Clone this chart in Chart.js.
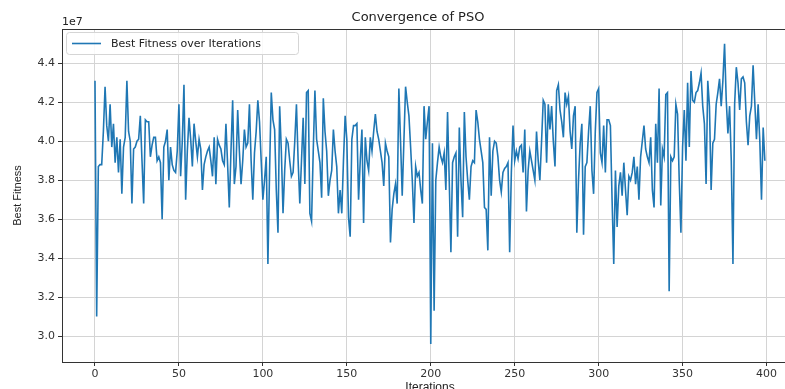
<!DOCTYPE html>
<html>
<head>
<meta charset="utf-8">
<script src="https://cdn.jsdelivr.net/npm/chart.js@4.4.0/dist/chart.umd.min.js"></script>
<style>
  html, body { margin: 0; padding: 0; background: #fff; }
  #wrap { width: 785px; height: 389px; }
</style>
</head>
<body>
<div id="wrap"><canvas id="pso-chart" width="785" height="389"></canvas></div>
<script>
// best fitness per iteration, in units of 1e7
const bestFitness = [
  4.31,3.10,3.87,3.88,3.88,4.05,4.28,4.08,4.00,4.19, 3.97,4.09,3.89,4.02,3.84,4.01,3.73,3.97,4.02,4.31,
  4.05,4.00,3.68,3.96,3.97,4.00,4.01,4.13,3.90,3.68, 4.11,4.10,4.10,3.92,3.98,4.02,4.02,3.90,3.92,3.89,
  3.60,3.97,4.00,4.06,3.80,3.97,3.88,3.85,3.84,3.95,
  4.19,3.82,4.00,4.29,3.70,3.95,4.12,4.01,3.87, 4.09,4.00,3.92,4.01,3.96,3.75,3.88,3.92,3.95,3.97,
  3.90,3.82,4.02,3.78,4.01,3.98,3.96,3.90,3.88,4.09, 3.88,3.66,3.95,4.21,3.78,3.87,4.16,3.95,3.78,3.90,
  4.06,3.97,3.99,4.19,3.90,3.70,3.94,4.05,4.21,4.10, 3.90,
  3.70,3.80,3.92,3.37,3.85,4.25,4.11,4.06,3.75,3.53, 4.18,3.95,3.63,3.85,4.01,3.99,3.90,3.82,3.84,4.00,
  4.19,3.90,3.68,3.90,4.12,3.78,4.25,4.26,3.63,3.59, 3.95,4.26,4.01,3.95,3.89,3.71,4.22,4.05,3.95,3.72,
  3.80,3.85,4.06,3.95,3.87,3.63,3.75,3.63,3.90,4.13,
  4.01,3.61,3.51,4.01,4.08,4.08,4.09,3.70,3.90,4.06, 3.58,4.02,3.90,3.85,4.02,3.95,4.05,4.14,4.05,
  4.01,3.95,3.89,3.77,3.99,3.95,3.92,3.48,3.65,3.73, 3.78,3.68,4.27,4.00,3.72,4.00,4.28,4.20,4.13,3.97,
  3.80,3.58,3.87,3.82,3.84,3.75,3.68,4.18,4.01,4.10, 4.18,
  2.96,3.99,3.13,3.80,3.89,3.97,3.92,3.89,3.94,3.75, 4.15,3.80,3.43,3.89,3.92,3.94,3.51,4.07,3.80,3.61,
  4.15,3.92,3.80,3.70,3.87,3.90,3.89,4.16,4.10,4.01, 3.95,3.89,3.66,3.65,3.44,4.02,3.72,3.95,4.00,3.99,
  3.92,3.80,3.74,3.84,3.86,3.87,3.89,3.43,3.84,4.08, 3.90,3.95,
  3.91,3.97,3.98,3.84,4.06,3.64,3.85,3.95,3.90,3.85, 3.80,4.05,3.90,3.80,4.00,4.21,4.19,3.89,4.19,
  4.06,4.18,4.00,3.87,4.26,4.29,4.16,4.10,4.02,4.25, 4.19,4.23,4.05,3.96,4.13,4.18,3.53,3.80,3.99,4.09,
  3.52,3.87,3.89,4.05,4.18,3.85,3.73,4.05,4.25,4.27,
  3.94,3.89,4.08,3.84,4.11,4.11,4.08,3.70,3.37,3.85, 3.56,3.77,3.84,3.72,3.89,3.75,3.62,3.82,3.80,3.84,
  3.92,3.78,3.87,3.70,3.92,4.00,4.08,3.96,3.92,3.89, 4.02,3.75,3.66,4.09,3.89,4.27,3.67,3.96,3.92,4.24,
  4.25,3.23,3.92,3.90,3.92,4.19,4.14,3.80,3.53,3.97,
  4.16,3.90,4.30,3.97,4.36,4.21,4.20,4.25,4.26,4.30, 4.35,4.18,4.09,3.78,4.31,4.18,3.75,3.99,4.01,4.19,
  4.25,4.32,4.18,4.31,4.50,4.21,4.04,4.18,3.90, 3.37,4.19,4.38,4.30,4.16,4.32,4.33,4.30,4.10,3.98,
  4.13,4.18,4.39,4.20,4.01,4.19,4.00,3.70,4.07,3.90
];
const xTicks = [0, 50, 100, 150, 200, 250, 300, 350, 400];
const yTicks = [3.0, 3.2, 3.4, 3.6, 3.8, 4.0, 4.2, 4.4];
const offsetLabel = '1e7';
const titleText = 'Convergence of PSO';
const xLabel = 'Iterations';
const yLabel = 'Best Fitness';
const seriesName = 'Best Fitness over Iterations';

const lineColor = '#1f77b4';
const tickFont = { family: 'DejaVu Sans', size: 11 };

const points = bestFitness.map((v, i) => ({ x: i, y: v }));

// matplotlib-ish extras: spines, title, offset text, axis labels, legend
// (the right side of the axes is cut off in the source image)
const mplDecor = {
  id: 'mplDecor',
  afterDraw(chart) {
    const c = chart.ctx;
    const a = chart.chartArea;
    c.save();
    c.strokeStyle = '#333';
    c.lineWidth = 1;
    c.beginPath();
    c.moveTo(a.left, a.top + 0.5);
    c.lineTo(a.right, a.top + 0.5);
    c.stroke();

    c.fillStyle = '#222';
    c.font = '13px "DejaVu Sans"';
    c.textAlign = 'center';
    c.textBaseline = 'alphabetic';
    c.fillText(titleText, 418, 21);

    c.font = '11px "DejaVu Sans"';
    c.textAlign = 'left';
    c.fillText(offsetLabel, a.left, 25);

    c.font = '12px "Liberation Sans"';
    c.textAlign = 'center';
    c.textBaseline = 'middle';
    c.fillText(xLabel, 430, 388);

    c.save();
    c.translate(18, (a.top + a.bottom) / 2);
    c.rotate(-Math.PI / 2);
    c.font = '11px "Liberation Sans"';
    c.fillText(yLabel, 0, 0);
    c.restore();

    // legend box
    const lx = a.left + 4, ly = a.top + 3, lw = 232, lh = 22;
    c.beginPath();
    c.roundRect(lx + 0.5, ly + 0.5, lw, lh, 3);
    c.fillStyle = 'rgba(255,255,255,0.85)';
    c.fill();
    c.strokeStyle = '#d5d5d5';
    c.stroke();
    c.beginPath();
    c.moveTo(lx + 6, ly + 11.5);
    c.lineTo(lx + 35, ly + 11.5);
    c.strokeStyle = lineColor;
    c.lineWidth = 1.6;
    c.stroke();
    c.fillStyle = '#222';
    c.font = '11px "DejaVu Sans"';
    c.textAlign = 'left';
    c.fillText(seriesName, lx + 45, ly + 12);
    c.restore();
  }
};

const ctx = document.getElementById('pso-chart').getContext('2d');
const psoChart = new Chart(ctx, {
  type: 'line',
  data: {
    datasets: [{
      label: seriesName,
      data: points,
      borderColor: lineColor,
      borderWidth: 1.6,
      pointRadius: 0,
      tension: 0,
      fill: false
    }]
  },
  options: {
    responsive: false,
    devicePixelRatio: 1,
    animation: false,
    layout: { padding: { top: 29, right: 0, left: 0, bottom: 0 } },
    plugins: {
      legend: { display: false },
      title: { display: false },
      tooltip: { enabled: false }
    },
    scales: {
      x: {
        type: 'linear',
        min: -19.65,
        max: 411,
        afterBuildTicks: s => { s.ticks = xTicks.map(v => ({ value: v })); },
        afterFit: s => { s.height = 27; },
        ticks: { font: tickFont, color: '#333', padding: 2, maxRotation: 0, autoSkip: false,
                 callback: v => String(v) },
        grid: { color: '#d4d4d4', lineWidth: 1, tickLength: 4, tickColor: '#333' },
        border: { color: '#333', width: 1 }
      },
      y: {
        min: 2.867,
        max: 4.576,
        afterBuildTicks: s => { s.ticks = yTicks.map(v => ({ value: v })); },
        afterFit: s => { s.width = 62; },
        ticks: { font: tickFont, color: '#333', padding: 3, callback: v => v.toFixed(1) },
        grid: { color: '#d4d4d4', lineWidth: 1, tickLength: 4, tickColor: '#333' },
        border: { color: '#333', width: 1 }
      }
    }
  },
  plugins: [mplDecor]
});
</script>
</body>
</html>
